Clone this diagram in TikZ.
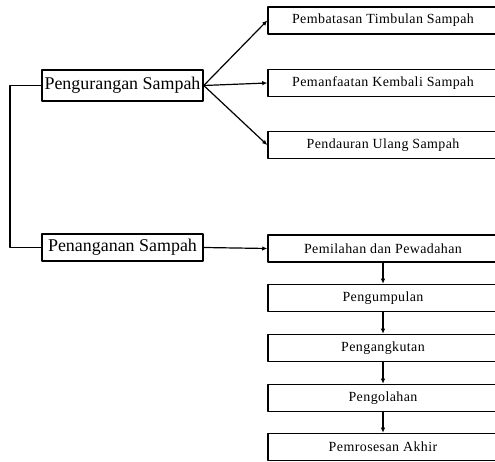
\documentclass[tikz,border=0pt]{standalone}
\usepackage{fontspec}
\setmainfont{Liberation Serif}
\newfontfamily\stepfont[LetterSpace=3]{Liberation Serif}
\usetikzlibrary{arrows.meta}
\begin{document}
\begin{tikzpicture}[>={Latex[length=5bp,width=4.5bp]},line join=bevel,
  mainbox/.style={draw,line width=1.5bp,minimum width=161bp,inner sep=0pt,
    font=\fontsize{18}{20}\selectfont},
  stepbox/.style={draw,line width=1.5bp,minimum width=230bp,minimum height=27bp,
    inner sep=0pt,font=\stepfont\fontsize{14}{16}\selectfont},
  link/.style={->,line width=1.2bp}]
  \useasboundingbox (0bp,0bp) rectangle (495bp,462bp);
  \clip (0bp,0bp) rectangle (495bp,462bp);
%%
  % Node: reduce
  \node[mainbox,minimum height=31bp] (reduce) at (122.5bp,376.5bp) {Pengurangan Sampah};
  % Node: handle
  \node[mainbox,minimum height=27bp] (handle) at (122.5bp,214.5bp) {Penanganan Sampah};
  % Node: limit
  \node[stepbox] (limit) at (383bp,441.5bp) {Pembatasan Timbulan Sampah};
  % Node: reuse
  \node[stepbox] (reuse) at (383bp,379bp) {Pemanfaatan Kembali Sampah};
  % Node: recycle
  \node[stepbox] (recycle) at (383bp,317bp) {Pendauran Ulang Sampah};
  % Node: sort
  \node[stepbox] (sort) at (383bp,213.5bp) {Pemilahan dan Pewadahan};
  % Node: collect
  \node[stepbox] (collect) at (383bp,164bp) {Pengumpulan};
  % Node: transport
  \node[stepbox] (transport) at (383bp,114bp) {Pengangkutan};
  % Node: treat
  \node[stepbox] (treat) at (383bp,64bp) {Pengolahan};
  % Node: final
  \node[stepbox] (final) at (383bp,15bp) {Pemrosesan Akhir};
  \coordinate (bend) at (10bp,376.5bp);
%%
  % Edge: reduce -> handle
  \draw[line width=1.2bp] (reduce.west) -- (bend) |- (handle.west);
  % Edge: reduce -> limit
  \draw[link] (reduce.east) -- (limit.west);
  % Edge: reduce -> reuse
  \draw[link] (reduce.east) -- (reuse.west);
  % Edge: reduce -> recycle
  \draw[link] (reduce.east) -- (recycle.west);
  % Edge: handle -> sort
  \draw[link] (handle.east) -- (sort.west);
  % Edge: sort -> collect
  \draw[link] (sort) -- (collect);
  % Edge: collect -> transport
  \draw[link] (collect) -- (transport);
  % Edge: transport -> treat
  \draw[link] (transport) -- (treat);
  % Edge: treat -> final
  \draw[link] (treat) -- (final);
%
\end{tikzpicture}
\end{document}
